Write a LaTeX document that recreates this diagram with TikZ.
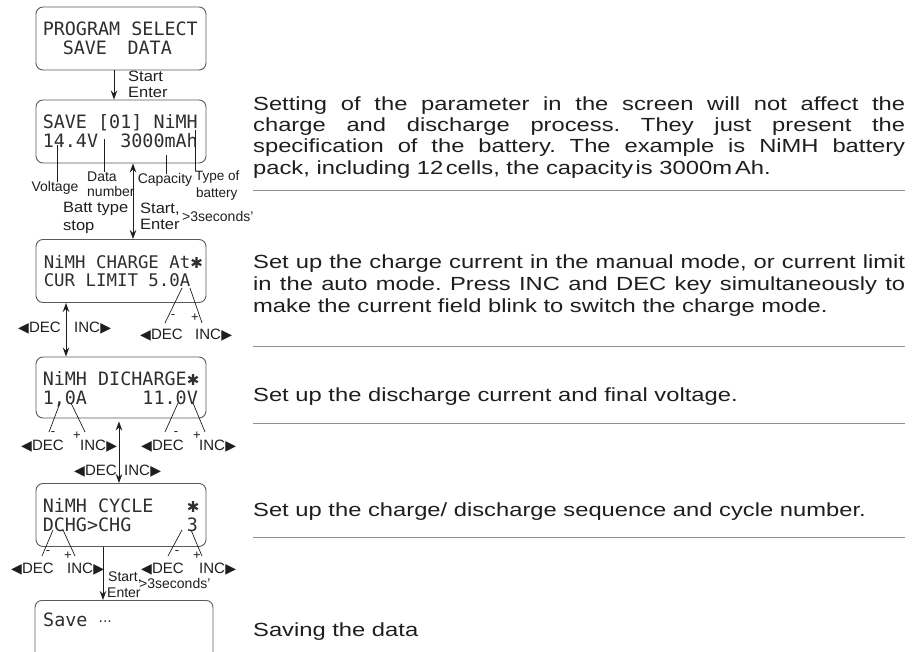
\documentclass[tikz,border=0pt]{standalone}
\usepackage{fontspec}
\setmainfont{Liberation Sans}
\newfontfamily\lcdfont{DejaVu Sans Mono}
\newfontfamily\symfont{DejaVu Sans}
\newfontfamily\parafont[FakeStretch=1.25]{Liberation Sans}
\newfontfamily\labfont[FakeStretch=1.1]{Liberation Sans}
\newfontfamily\plainlab{Liberation Sans}
\usetikzlibrary{arrows.meta}
\definecolor{ink}{HTML}{1E1E1E}
\definecolor{boxc}{HTML}{5A5A5A}
\definecolor{sepc}{HTML}{909090}
\definecolor{lcdc}{HTML}{2E2E2E}
\newcommand{\decl}{\makebox[11pt][l]{\symfont\fontsize{14}{14}\selectfont ◀}DEC}
\newcommand{\incr}{INC\makebox[11pt][r]{\symfont\fontsize{14}{14}\selectfont ▶}}
\newcommand{\lcdstar}{{\symfont\fontsize{15}{15}\selectfont ✱}}
\frenchspacing
\begin{document}
\begin{tikzpicture}[x=1pt,y=-1pt,
 lcdbox/.style={draw=boxc, line width=0.9pt, rounded corners=7pt, minimum width=170pt, minimum height=63pt, inner sep=0pt},
 lcdtxt/.style={font=\lcdfont\fontsize{18.4}{19}\selectfont, text=lcdc, align=left, inner sep=0pt, anchor=west},
 arrowdn/.style={draw=ink, line width=0.9pt, -{Stealth[length=9pt,width=6.5pt]}},
 darrow/.style={draw=ink, line width=0.9pt, {Stealth[length=9pt,width=6.5pt]}-{Stealth[length=9pt,width=6.5pt]}},
 leader/.style={draw=ink, line width=0.7pt},
 labA/.style={font=\labfont\fontsize{15}{15}\selectfont, text=ink, inner sep=0pt},
 labB/.style={font=\plainlab\fontsize{14}{14}\selectfont, text=ink, inner sep=0pt},
 keylab/.style={font=\plainlab\fontsize{15}{15}\selectfont, text=ink, inner sep=0pt},
 pmlab/.style={font=\plainlab\fontsize{13}{13}\selectfont, text=ink, inner sep=0pt},
 paratext/.style={font=\parafont\fontsize{19}{21.5}\selectfont, text=ink, inner sep=0pt, anchor=base west},
 sepline/.style={draw=sepc, line width=1pt}
]
\useasboundingbox (0,0) rectangle (913,652);
\clip (0,0) rectangle (913,652);

% LCD boxes
\node[lcdbox] (b1) at (121,38.5) {};
\node[lcdbox] (b2) at (121,131.5) {};
\node[lcdbox] (b3) at (121,271) {};
\node[lcdbox, minimum height=61pt] (b4) at (121,387.5) {};
\node[lcdbox] (b5) at (121,515) {};
\node[lcdbox, minimum width=178pt, minimum height=70pt, anchor=north] (b6) at (124,600) {};

\node[lcdtxt] (t1) at ([xshift=7pt]b1.west) {PROGRAM SELECT\\\hspace*{20pt}SAVE\hspace{20.5pt}DATA};
\node[lcdtxt] (t2) at ([xshift=7pt]b2.west) {SAVE [01] NiMH\\14.4V~~3000mAh};
\node[lcdtxt, font=\lcdfont\fontsize{17.4}{18.5}\selectfont] (t3) at ([xshift=8pt]b3.west) {NiMH CHARGE At\lcdstar\\CUR LIMIT 5.0A};
\node[lcdtxt] (t4) at ([xshift=7pt,yshift=-1.5pt]b4.west) {NiMH DICHARGE\lcdstar\\1,0A~~~~~11.0V};
\node[lcdtxt] (t5) at ([xshift=7pt]b5.west) {NiMH CYCLE~~~\lcdstar\\DCHG>CHG~~~~~3};
\node[lcdtxt] (t6) at (43,620) {Save {\symfont\fontsize{14}{14}\selectfont ···}};

% main arrows
\draw[arrowdn] (b1.south -| 114,0) -- (b2.north -| 114,0);
\draw[darrow] (b2.south -| 133,0) -- (b3.north -| 133,0);
\draw[darrow] (b3.south -| 66,0) -- (b4.north -| 66,0);
\draw[darrow, shorten <=3pt] (b4.south -| 119,0) -- (b5.north -| 119,0);
\draw[arrowdn] (b5.south -| 103,0) -- (b6.north -| 103,0);

% arrow labels
\node[labA, anchor=base west] (s1) at (128,82) {Start};
\node[labA, anchor=base west] (e1) at (128,98) {Enter};
\node[labA, anchor=base west] (bt) at (63,213) {Batt type};
\node[labA, anchor=base west] (st) at (63,231) {stop};
\node[labA, anchor=base west] (s2) at (140,214) {Start,};
\node[labA, anchor=base west] (e2) at (140,230) {Enter};
\node[labB, anchor=base west] (g2) at (182,222) {>3seconds’};
\node[labB, anchor=base west] (s5) at (108,581) {Start,};
\node[labB, anchor=base west] (e5) at (107,597) {Enter};
\node[labB, anchor=base west] (g5) at (139,588) {>3seconds’};

% box 2 leaders
\coordinate (vA) at (57,145);
\node[labB, anchor=base] (lV) at (55,192) {Voltage};
\draw[leader] (vA) -- (vA |- lV.north);
\coordinate (dA) at (104,139);
\node[labB, anchor=base west] (lD) at (87,182) {Data};
\node[labB, anchor=base west] (lN) at (87,197) {number};
\draw[leader] (dA) -- (dA |- lD.north);
\coordinate (cA) at (166,155);
\node[labB, anchor=base] (lC) at (165,184) {Capacity};
\draw[leader] (cA) -- (cA |- lC.north);
\coordinate (tA) at (195,130);
\node[labB, font=\plainlab\fontsize{13.5}{13.5}\selectfont, anchor=base west] (lT) at (195,181) {Type of};
\node[labB, font=\plainlab\fontsize{13.5}{13.5}\selectfont, anchor=base west] (lB) at (196,197.5) {battery};
\draw[leader] (tA) -- (tA |- lT.north);

% box 3 keys
\node[keylab, anchor=base east] (d3l) at (61,333) {\decl};
\node[keylab, anchor=base west] (i3l) at (74,333) {\incr};
\coordinate (m3a) at (182,288); \coordinate (m3b) at (165,323);
\coordinate (p3a) at (190,288); \coordinate (p3b) at (202,323);
\draw[leader] (m3a) -- (m3b);
\draw[leader] (p3a) -- (p3b);
\node[pmlab] (mn3) at (173,317) {-};
\node[pmlab] (pl3) at (195,318) {+};
\node[keylab, anchor=base east] (d3r) at (183,340) {\decl};
\node[keylab, anchor=base west] (i3r) at (195,340) {\incr};

% box 4 keys
\coordinate (m4a) at (60,403); \coordinate (m4b) at (49,432);
\coordinate (p4a) at (71,403); \coordinate (p4b) at (85,432);
\coordinate (m4c) at (178,403); \coordinate (m4d) at (165,432);
\coordinate (p4c) at (193,403); \coordinate (p4d) at (205,432);
\draw[leader] (m4a) -- (m4b);
\draw[leader] (p4a) -- (p4b);
\draw[leader] (m4c) -- (m4d);
\draw[leader] (p4c) -- (p4d);
\node[pmlab] (mn4a) at (53,434) {-};
\node[pmlab] (pl4a) at (77,436) {+};
\node[pmlab] (mn4b) at (176,434) {-};
\node[pmlab] (pl4b) at (197,436) {+};
\node[keylab, anchor=base east] (d4l) at (64,450) {\decl};
\node[keylab, anchor=base west] (i4l) at (80,450) {\incr};
\node[keylab, anchor=base east] (d4r) at (184,450) {\decl};
\node[keylab, anchor=base west] (i4r) at (199,450) {\incr};

% middle keys
\node[keylab, anchor=base east] (d45) at (117,475) {\decl};
\node[keylab, anchor=base west] (i45) at (124,475) {\incr};

% box 5 keys
\coordinate (m5a) at (53,530); \coordinate (m5b) at (42,556);
\coordinate (p5a) at (63,530); \coordinate (p5b) at (75,556);
\coordinate (m5c) at (182,530); \coordinate (m5d) at (168,556);
\coordinate (p5c) at (191,530); \coordinate (p5d) at (202,556);
\draw[leader] (m5a) -- (m5b);
\draw[leader] (p5a) -- (p5b);
\draw[leader] (m5c) -- (m5d);
\draw[leader] (p5c) -- (p5d);
\node[pmlab] (mn5a) at (48,553) {-};
\node[pmlab] (pl5a) at (68,556) {+};
\node[pmlab] (mn5b) at (177,553) {-};
\node[pmlab] (pl5b) at (197,556) {+};
\node[keylab, anchor=base east] (d5l) at (54,573) {\decl};
\node[keylab, anchor=base west] (i5l) at (67,573) {\incr};
\node[keylab, anchor=base east] (d5r) at (184,573) {\decl};
\node[keylab, anchor=base west] (i5r) at (199,573) {\incr};

% right-hand text
\node[paratext] (p1a) at (253,110.5) {\makebox[652pt][s]{Setting of the parameter in the screen will not affect the}};
\node[paratext] (p1b) at (253,131.5) {\makebox[652pt][s]{charge and discharge process. They just present the}};
\node[paratext] (p1c) at (253,153) {\makebox[652pt][s]{specification of the battery. The example is NiMH battery}};
\node[paratext] (p1d) at (253,174.5) {pack, including 12\hspace{2.5pt}cells, the capacity\hspace{2.5pt}is 3000m\hspace{3pt}Ah.};
\draw[sepline] (253,191) -- (905,191);
\node[paratext] (p2a) at (253,268.5) {\makebox[652pt][s]{Set up the charge current in the manual mode, or current limit}};
\node[paratext] (p2b) at (253,290.5) {\makebox[652pt][s]{in the auto mode. Press INC and DEC key simultaneously to}};
\node[paratext] (p2c) at (253,312.5) {make the current field blink to switch the charge mode.};
\draw[sepline] (253,346) -- (905,346);
\node[paratext] (p3) at (253,401.5) {Set up the discharge current and final voltage.};
\draw[sepline] (253,423) -- (905,423);
\node[paratext] (p4) at (253,516.5) {Set up the charge/ discharge sequence and cycle number.};
\draw[sepline] (253,537) -- (905,537);
\node[paratext] (p5) at (253,636.5) {Saving the data};
\end{tikzpicture}
\end{document}
